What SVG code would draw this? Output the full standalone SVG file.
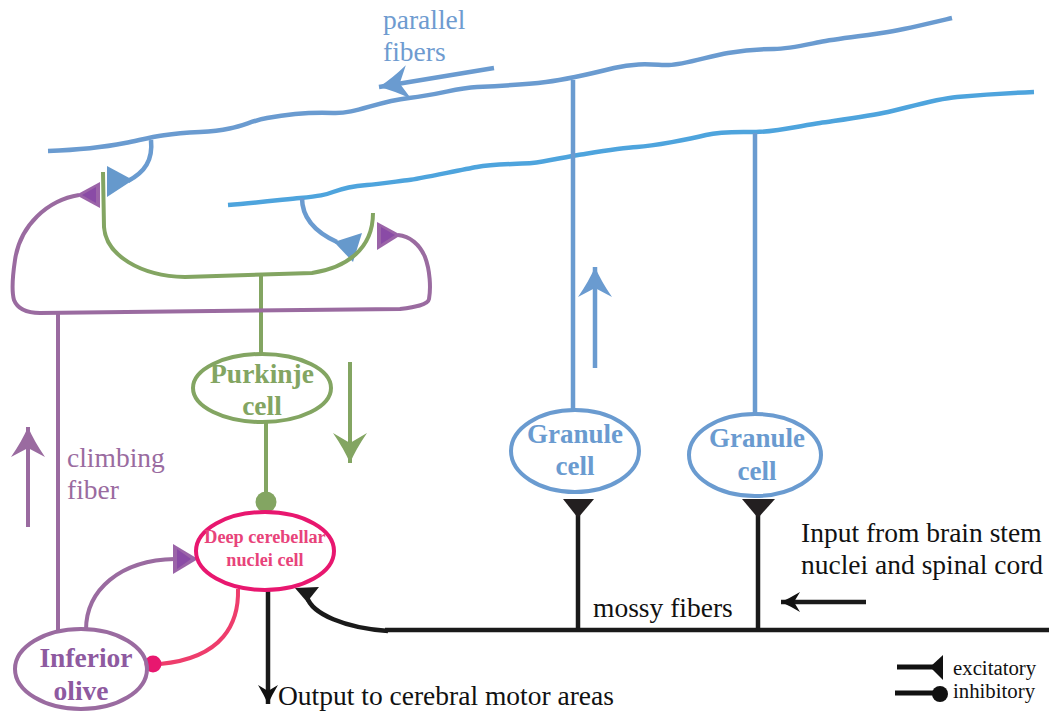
<svg xmlns="http://www.w3.org/2000/svg" width="1049" height="713" viewBox="0 0 1049 713">
<style>
.t{font-family:"Liberation Serif","Times New Roman",serif}
.b{font-weight:bold}
.blue{stroke:#6a9bd0;fill:none;stroke-width:4.5}
.blue2{stroke:#4ea4dd;fill:none;stroke-width:4.5}
.pur{stroke:#9a6ba0;fill:none;stroke-width:4}
.grn{stroke:#83a562;fill:none;stroke-width:4}
.blk{stroke:#1a1a1a;fill:none;stroke-width:4.5}
</style>
<defs>
<marker id="arrB" viewBox="-31 -18 32 36" refX="0" refY="0" markerWidth="32" markerHeight="36" markerUnits="userSpaceOnUse" orient="auto">
<path d="M0,0 Q-14,-6 -30,-17 L-21,0 L-30,17 Q-14,6 0,0 Z" fill="#6a9bd0"/>
</marker>
<marker id="arrG" viewBox="-31 -18 32 36" refX="0" refY="0" markerWidth="32" markerHeight="36" markerUnits="userSpaceOnUse" orient="auto">
<path d="M0,0 Q-14,-6 -30,-17 L-20,0 L-30,17 Q-14,6 0,0 Z" fill="#83a562"/>
</marker>
<marker id="arrP" viewBox="-31 -18 32 36" refX="0" refY="0" markerWidth="32" markerHeight="36" markerUnits="userSpaceOnUse" orient="auto">
<path d="M0,0 Q-14,-6 -30,-17 L-21,0 L-30,17 Q-14,6 0,0 Z" fill="#9a6ba0"/>
</marker>
<marker id="arrK" viewBox="-21 -11 22 22" refX="0" refY="0" markerWidth="22" markerHeight="22" markerUnits="userSpaceOnUse" orient="auto">
<path d="M0,0 Q-9,-4 -19,-10 L-13,0 L-19,10 Q-9,4 0,0 Z" fill="#111"/>
</marker>
</defs>
<rect width="1049" height="713" fill="#fff"/>

<g id="connectors">
<!-- parallel fibers -->
<path class="blue" d="M48,151 C75,150 100,148 125,143 S160,134 200,132 S245,122 267,118 S310,112 333,113 S375,102 409,98 S455,88 477,87 S530,84 546,82 S590,74 614,68 S655,65 669,65 S710,56 728,53 S760,49 774,49 S805,45 820,42 S870,35 888,32 S935,22 952,18"/>
<path class="blue2" d="M228,205 C255,203 280,200 300,198 S325,195 333,192 S355,186 367,185 S400,181 409,180 S460,170 477,167 S520,164 532,163 S565,157 578,155 S620,148 637,147 S690,139 706,135 S740,132 756,132 S800,126 820,123 S870,116 888,112 S935,99 957,97 S1010,93 1034,92"/>
<!-- parallel fiber direction arrow -->
<line class="blue" x1="494" y1="68" x2="379" y2="87" marker-end="url(#arrB)"/>
<!-- granule axons -->
<line class="blue" x1="573" y1="80" x2="573" y2="411" stroke-width="4"/>
<line class="blue" x1="755" y1="133" x2="755" y2="414" stroke-width="4"/>
<line class="blue" x1="595" y1="368" x2="595" y2="267" stroke-width="4" marker-end="url(#arrB)"/>
<!-- parallel fiber -> purkinje dendrite synapses -->
<path class="blue" d="M151,140 C153,160 145,172 128,181" stroke-width="4"/>
<polygon points="107,166 107,197 133,180" fill="#6699cc"/>
<path class="blue" d="M302,198 C302,218 315,232 337,242" stroke-width="4"/>
<polygon points="334,242 362,233 353,262" fill="#6699cc"/>
<!-- purkinje dendrites -->
<path class="grn" d="M103,172 L104,227 C106,255 140,276 185,277 L312,273 C345,268 373,250 373,213"/>
<line class="grn" x1="261" y1="276" x2="261" y2="356"/>
<!-- purkinje -> DCN inhibitory -->
<line class="grn" x1="266" y1="423" x2="266" y2="495"/>
<circle cx="266" cy="502" r="10.5" fill="#83a562"/>
<line class="grn" x1="350" y1="362" x2="350" y2="463" marker-end="url(#arrG)"/>
<!-- climbing fiber -->
<path class="pur" d="M79,195 C48,200 20,225 15,260 C12,280 12,293 14,300 C18,310 28,313 40,313 L400,309 C415,307 428,305 429,299 C431,288 430,270 425,257 C420,245 410,236 398,235"/>
<polygon points="100,182 100,208 76,195" fill="#9b64a8"/>
<polygon points="96,187 96,203 82,195" fill="#8a4ba6"/>
<polygon points="377,222 377,250 401,235" fill="#9b64a8"/>
<polygon points="381,227 381,244 395,235" fill="#8a4ba6"/>
<line class="pur" x1="58" y1="312" x2="58" y2="630"/>
<line class="pur" x1="28" y1="527" x2="28" y2="427" marker-end="url(#arrP)"/>
<!-- inferior olive -> DCN -->
<path class="pur" d="M86,630 C86,590 120,560 175,559"/>
<polygon points="173,544 173,574 198,559" fill="#9b64a8"/>
<polygon points="177,549 177,569 191,559" fill="#8a4ba6"/>
<!-- DCN -> inferior olive inhibitory -->
<path d="M238,589 C239,622 224,658 160,664" fill="none" stroke="#ee3d6c" stroke-width="4"/>
<circle cx="153" cy="664" r="8.5" fill="#e8176f"/>
<!-- output -->
<line class="blk" x1="268" y1="590" x2="268" y2="704" stroke-width="4" marker-end="url(#arrK)"/>
<!-- mossy fibers -->
<line class="blk" x1="385" y1="630" x2="1049" y2="630"/>
<path class="blk" d="M388,631 C345,628 312,614 307,597"/>
<polygon points="295,588 319,587 307,602" fill="#1a1a1a"/>
<line class="blk" x1="578" y1="630" x2="578" y2="510" stroke="#231f20"/>
<polygon points="563,499 594,499 578,518" fill="#231f20"/>
<line class="blk" x1="758" y1="630" x2="758" y2="510" stroke="#231f20"/>
<polygon points="742,499 775,499 758,518" fill="#231f20"/>
<line class="blk" x1="866" y1="602" x2="781" y2="602" marker-end="url(#arrK)"/>
</g>

<g id="purkinje">
<ellipse cx="262" cy="388" rx="69" ry="34" fill="none" stroke="#83a562" stroke-width="4"/>
<text class="t b" x="262" y="383" font-size="27.5" fill="#83a562" text-anchor="middle">Purkinje</text>
<text class="t b" x="262" y="415" font-size="27.5" fill="#83a562" text-anchor="middle">cell</text>
</g>

<g id="dcn">
<ellipse cx="265" cy="551" rx="69" ry="39" fill="none" stroke="#e8176f" stroke-width="4"/>
<text class="t b" x="265" y="543" font-size="18.2" fill="#e8437a" text-anchor="middle">Deep cerebellar</text>
<text class="t b" x="265" y="566" font-size="18.2" fill="#e8437a" text-anchor="middle">nuclei cell</text>
</g>

<g id="inferior-olive">
<ellipse cx="81" cy="669" rx="66" ry="40" fill="none" stroke="#9a6ba0" stroke-width="4"/>
<text class="t b" x="86" y="667" font-size="27.5" fill="#8e5aa0" text-anchor="middle">Inferior</text>
<text class="t b" x="81" y="700" font-size="27.5" fill="#8e5aa0" text-anchor="middle">olive</text>
</g>

<g id="granule1">
<ellipse cx="575" cy="451" rx="64" ry="41" fill="none" stroke="#6a9bd0" stroke-width="4"/>
<text class="t b" x="575" y="443" font-size="27" fill="#6a9bd0" text-anchor="middle">Granule</text>
<text class="t b" x="575" y="475" font-size="27" fill="#6a9bd0" text-anchor="middle">cell</text>
</g>

<g id="granule2">
<ellipse cx="755" cy="455" rx="66" ry="41" fill="none" stroke="#6a9bd0" stroke-width="4"/>
<text class="t b" x="757" y="447" font-size="27" fill="#6a9bd0" text-anchor="middle">Granule</text>
<text class="t b" x="757" y="480" font-size="27" fill="#6a9bd0" text-anchor="middle">cell</text>
</g>

<g id="labels">
<text class="t" x="383" y="29" font-size="27.5" fill="#6e9bd0">parallel</text>
<text class="t" x="383" y="61" font-size="27.5" fill="#6e9bd0">fibers</text>
<text class="t" x="67" y="467" font-size="27.5" fill="#9a6ba0">climbing</text>
<text class="t" x="67" y="499" font-size="27.5" fill="#9a6ba0">fiber</text>
<text class="t" x="278" y="705" font-size="27.5" fill="#111">Output to cerebral motor areas</text>
<text class="t" x="593" y="617" font-size="27.5" fill="#111">mossy fibers</text>
<text class="t" x="801" y="542" font-size="27.5" fill="#111">Input from brain stem</text>
<text class="t" x="801" y="574" font-size="27.5" fill="#111">nuclei and spinal cord</text>
</g>

<g id="legend">
<line x1="897" y1="667" x2="935" y2="667" stroke="#111" stroke-width="5"/>
<polygon points="930,667 943,655 943,680" fill="#111"/>
<text class="t" x="953" y="675" font-size="20.8" fill="#111">excitatory</text>
<line x1="895" y1="693" x2="935" y2="693" stroke="#111" stroke-width="5"/>
<circle cx="940" cy="694" r="8" fill="#111"/>
<text class="t" x="953" y="698" font-size="20.8" fill="#111">inhibitory</text>
</g>
</svg>
